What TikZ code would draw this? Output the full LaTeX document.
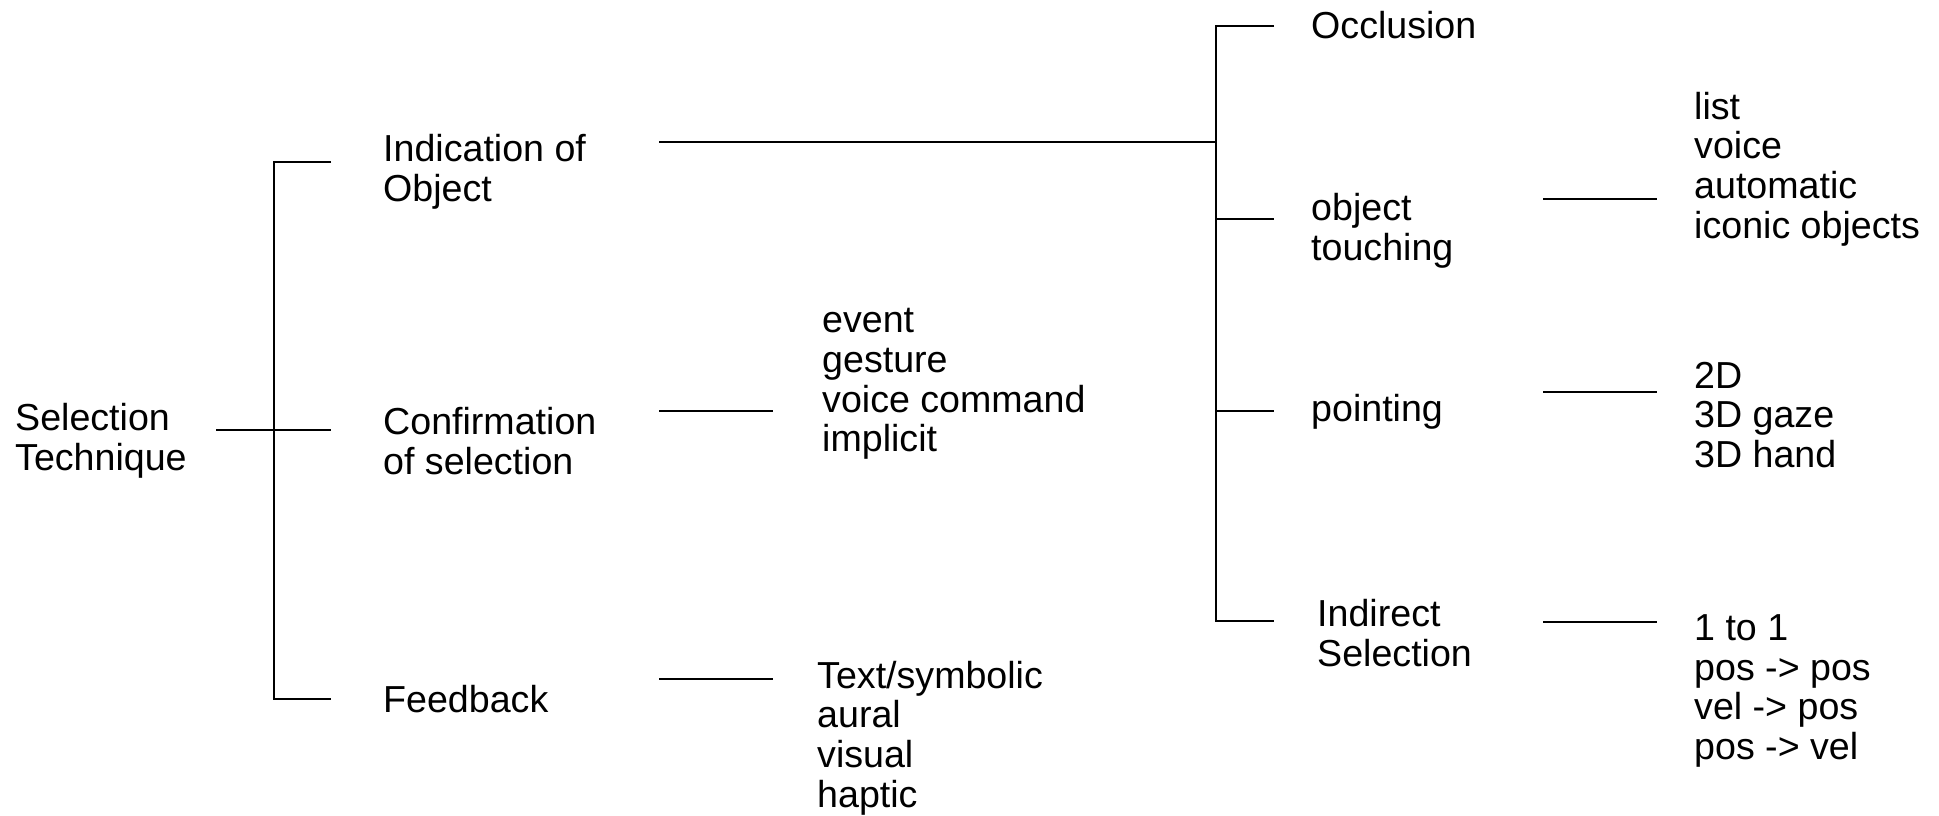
\documentclass[tikz,border=0pt]{standalone}
\usepackage{fontspec}
\setmainfont{Liberation Sans}
\begin{document}
\begin{tikzpicture}[x=1pt,y=-1pt,
  lbl/.style={anchor=west,inner sep=0pt,align=left,font=\fontsize{37.6}{39.6}\selectfont},
  link/.style={line width=1.6pt}]
\useasboundingbox (0,0) rectangle (1939,815);

% labels
\node[lbl] (root) at (15,441) {Selection\\Technique};
\node[lbl] (ind)  at (383,172) {Indication of\\Object};
\node[lbl] (conf) at (383,441) {Confirmation\\of selection};
\node[lbl] (fb)   at (383,699) {Feedback};
\node[lbl] (confl) at (822,384) {event\\gesture\\voice command\\implicit};
\node[lbl] (fbl)   at (817,738) {Text/symbolic\\aural\\visual\\haptic};
\node[lbl] (occ)  at (1311,25)  {Occlusion};
\node[lbl] (touch) at (1311,231) {object\\touching};
\node[lbl] (point) at (1311,412) {pointing};
\node[lbl] (indir) at (1317,633) {Indirect\\Selection};
\node[lbl] (touchl) at (1694,169) {list\\voice\\automatic\\iconic objects};
\node[lbl] (pointl) at (1694,415) {2D\\3D gaze\\3D hand};
\node[lbl] (indirl) at (1694,691) {1 to 1\\pos -> pos\\vel -> pos\\pos -> vel};

% first-level bracket
\coordinate (rootL) at (216,430);
\coordinate (b1top) at (274,162);
\coordinate (b1mid) at (274,430);
\coordinate (b1bot) at (274,699);
\coordinate (indL) at (331,162);
\coordinate (confL) at (331,430);
\coordinate (fbL) at (331,699);
\draw[link] (rootL) -- (confL);
\draw[link] (indL) -- (b1top) -- (b1bot) -- (fbL);

% second-level connectors
\coordinate (indR) at (659,142);
\coordinate (b2mid) at (1216,142);
\coordinate (confR) at (659,411);
\coordinate (conflL) at (773,411);
\coordinate (fbR) at (659,679);
\coordinate (fblL) at (773,679);
\draw[link] (indR) -- (b2mid);
\draw[link] (confR) -- (conflL);
\draw[link] (fbR) -- (fblL);

% bracket for ways of indicating an object
\coordinate (b2top) at (1216,26);
\coordinate (b2t) at (1216,219);
\coordinate (b2p) at (1216,411);
\coordinate (b2bot) at (1216,621);
\coordinate (occL) at (1274,26);
\coordinate (touchL) at (1274,219);
\coordinate (pointL) at (1274,411);
\coordinate (indirL) at (1274,621);
\draw[link] (occL) -- (b2top) -- (b2bot) -- (indirL);
\draw[link] (b2t) -- (touchL);
\draw[link] (b2p) -- (pointL);

% third-level connectors
\coordinate (touchR) at (1543,199);
\coordinate (touchlL) at (1657,199);
\coordinate (pointR) at (1543,392);
\coordinate (pointlL) at (1657,392);
\coordinate (indirR) at (1543,622);
\coordinate (indirlL) at (1657,622);
\draw[link] (touchR) -- (touchlL);
\draw[link] (pointR) -- (pointlL);
\draw[link] (indirR) -- (indirlL);
\end{tikzpicture}
\end{document}
